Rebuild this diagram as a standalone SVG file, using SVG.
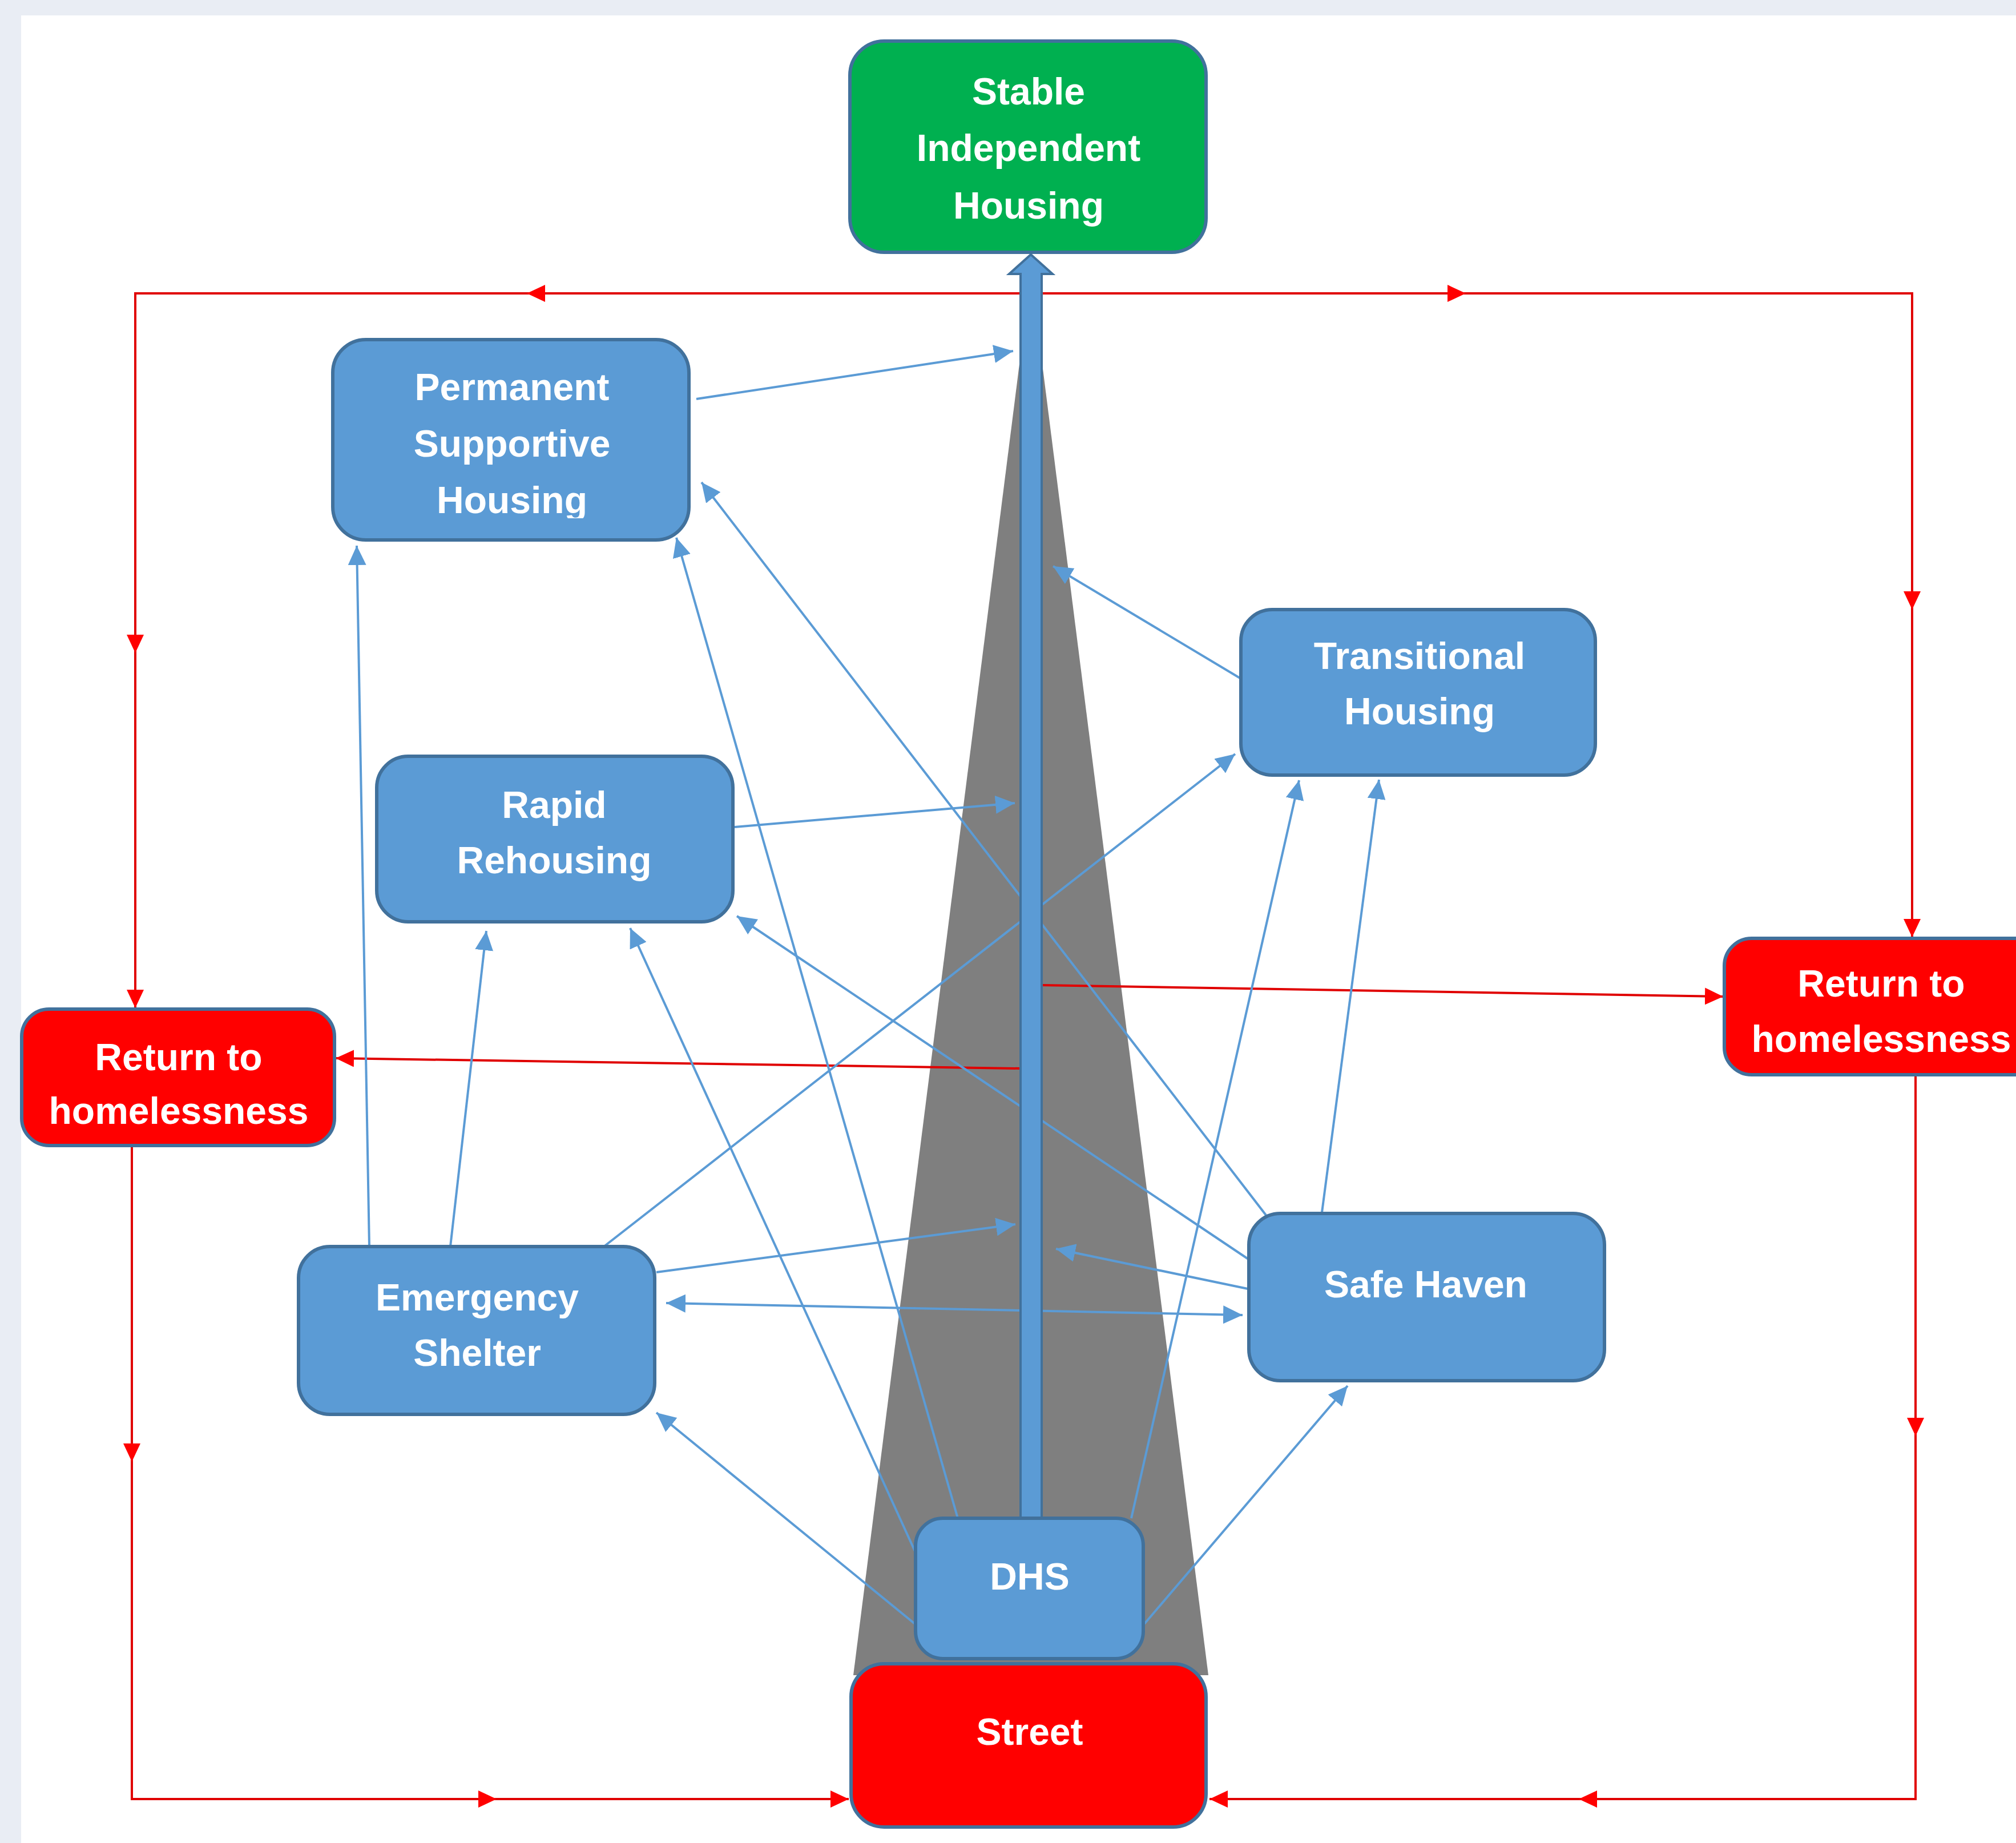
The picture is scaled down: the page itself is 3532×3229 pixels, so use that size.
<svg xmlns="http://www.w3.org/2000/svg" width="3532" height="3229" viewBox="0 0 3532 3229">
<defs>
<style>
.bg{fill:#e9edf4}
.panel{fill:#ffffff}
.box{stroke:#41719c;stroke-width:6}
.blue{fill:#5b9bd5}
.green{fill:#00b050}
.red{fill:#ff0000}
.lbl{font-family:"Liberation Sans",Arial,sans-serif;font-weight:bold;font-size:66px;fill:#ffffff;text-anchor:middle}
.thin{stroke:#5b9bd5;stroke-width:4;fill:none}
.rl{stroke:#e00000;stroke-width:4;fill:none}
</style>
<marker id="ab" markerUnits="userSpaceOnUse" markerWidth="36" markerHeight="32" refX="34" refY="16" orient="auto" viewBox="0 0 36 32">
<path d="M0,0 L34,16 L0,32 z" fill="#5b9bd5"/>
</marker>
<marker id="abs" markerUnits="userSpaceOnUse" markerWidth="36" markerHeight="32" refX="2" refY="16" orient="auto" viewBox="0 0 36 32">
<path d="M36,0 L2,16 L36,32 z" fill="#5b9bd5"/>
</marker>
<marker id="ar" markerUnits="userSpaceOnUse" markerWidth="34" markerHeight="30" refX="32" refY="15" orient="auto" viewBox="0 0 34 30">
<path d="M0,0 L32,15 L0,30 z" fill="#ff0000"/>
</marker>
<clipPath id="pshclip"><rect x="583" y="595" width="624" height="313"/></clipPath>
</defs>
<rect class="bg" x="0" y="0" width="3532" height="3229"/>
<rect class="panel" x="37" y="27" width="3495" height="3202"/>

<polygon id="funnel" points="1806,480 1495,2935 2117,2935" fill="#7f7f7f"/>

<g id="connectors">
<g id="red-loops">
<line class="rl" x1="1806" y1="514" x2="923" y2="514" marker-end="url(#ar)"/>
<polyline class="rl" points="923,514 237,514 237,1144" marker-end="url(#ar)"/>
<line class="rl" x1="237" y1="1144" x2="237" y2="1766" marker-end="url(#ar)"/>
<line class="rl" x1="1806" y1="514" x2="2568" y2="514" marker-end="url(#ar)"/>
<polyline class="rl" points="2568,514 3350,514 3350,1068" marker-end="url(#ar)"/>
<line class="rl" x1="3350" y1="1068" x2="3350" y2="1642" marker-end="url(#ar)"/>
<line class="rl" x1="231" y1="2007" x2="231" y2="2561" marker-end="url(#ar)"/>
<polyline class="rl" points="231,2561 231,3152 870,3152" marker-end="url(#ar)"/>
<line class="rl" x1="870" y1="3152" x2="1487" y2="3152" marker-end="url(#ar)"/>
<line class="rl" x1="3356" y1="1883" x2="3356" y2="2516" marker-end="url(#ar)"/>
<polyline class="rl" points="3356,2516 3356,3152 2766,3152" marker-end="url(#ar)"/>
<line class="rl" x1="2766" y1="3152" x2="2119" y2="3152" marker-end="url(#ar)"/>
<line class="rl" x1="1788" y1="1872" x2="588" y2="1854" marker-end="url(#ar)"/>
<line class="rl" x1="1825" y1="1726" x2="3019" y2="1746" marker-end="url(#ar)"/>
</g>
<g id="blue-links">
<line class="thin" x1="1220" y1="699" x2="1775" y2="615" marker-end="url(#ab)"/>
<line class="thin" x1="1287" y1="1449" x2="1778" y2="1407" marker-end="url(#ab)"/>
<line class="thin" x1="2174" y1="1189" x2="1845" y2="992" marker-end="url(#ab)"/>
<line class="thin" x1="1150" y1="2229" x2="1779" y2="2145" marker-end="url(#ab)"/>
<line class="thin" x1="2186" y1="2258" x2="1850" y2="2188" marker-end="url(#ab)"/>
<line class="thin" x1="1167" y1="2283" x2="2177" y2="2304" marker-start="url(#abs)" marker-end="url(#ab)"/>
<line class="thin" x1="1058" y1="2184" x2="2164" y2="1321" marker-end="url(#ab)"/>
<line class="thin" x1="789" y1="2184" x2="852" y2="1631" marker-end="url(#ab)"/>
<line class="thin" x1="647" y1="2184" x2="625" y2="956" marker-end="url(#ab)"/>
<line class="thin" x1="2187" y1="2206" x2="1291" y2="1605" marker-end="url(#ab)"/>
<line class="thin" x1="2218" y1="2129" x2="1229" y2="845" marker-end="url(#ab)"/>
<line class="thin" x1="2316" y1="2124" x2="2416" y2="1366" marker-end="url(#ab)"/>
<line class="thin" x1="1982" y1="2660" x2="2276" y2="1367" marker-end="url(#ab)"/>
<line class="thin" x1="2005" y1="2845" x2="2361" y2="2428" marker-end="url(#ab)"/>
<line class="thin" x1="1604" y1="2846" x2="1150" y2="2475" marker-end="url(#ab)"/>
<line class="thin" x1="1604" y1="2720" x2="1104" y2="1626" marker-end="url(#ab)"/>
<line class="thin" x1="1678" y1="2660" x2="1185" y2="942" marker-end="url(#ab)"/>
</g>
<path id="main-arrow" d="M1788,2662 L1788,480 L1768,480 L1806,446 L1844,480 L1825,480 L1825,2662 z" fill="#5b9bd5" stroke="#41719c" stroke-width="4"/>
</g>

<g id="stable">
<rect class="box green" x="1489" y="72" width="624" height="370" rx="60"/>
<text class="lbl" x="1802" y="183">Stable</text>
<text class="lbl" x="1802" y="282">Independent</text>
<text class="lbl" x="1802" y="383">Housing</text>
</g>
<g id="psh">
<rect class="box blue" x="583" y="595" width="624" height="351" rx="58"/>
<g clip-path="url(#pshclip)">
<text class="lbl" x="897" y="701">Permanent</text>
<text class="lbl" x="897" y="800">Supportive</text>
<text class="lbl" x="897" y="899">Housing</text>
</g>
</g>
<g id="rapid">
<rect class="box blue" x="660" y="1325" width="624" height="290" rx="55"/>
<text class="lbl" x="971" y="1433">Rapid</text>
<text class="lbl" x="971" y="1530">Rehousing</text>
</g>
<g id="transitional">
<rect class="box blue" x="2174" y="1068" width="621" height="290" rx="55"/>
<text class="lbl" x="2487" y="1172">Transitional</text>
<text class="lbl" x="2487" y="1269">Housing</text>
</g>
<g id="return-left">
<rect class="box red" x="38" y="1768" width="548" height="239" rx="48"/>
<text class="lbl" x="313" y="1875">Return to</text>
<text class="lbl" x="313" y="1969">homelessness</text>
</g>
<g id="return-right">
<rect class="box red" x="3021" y="1644" width="560" height="239" rx="48"/>
<text class="lbl" x="3296" y="1746">Return to</text>
<text class="lbl" x="3296" y="1843">homelessness</text>
</g>
<g id="emergency">
<rect class="box blue" x="523" y="2184" width="624" height="294" rx="55"/>
<text class="lbl" x="836" y="2296">Emergency</text>
<text class="lbl" x="836" y="2393">Shelter</text>
</g>
<g id="safehaven">
<rect class="box blue" x="2188" y="2126" width="623" height="293" rx="55"/>
<text class="lbl" x="2498" y="2273">Safe Haven</text>
</g>
<g id="dhs">
<rect class="box blue" x="1604" y="2660" width="399" height="246" rx="48"/>
<text class="lbl" x="1804" y="2785">DHS</text>
</g>
<g id="street">
<rect class="box red" x="1491" y="2915" width="622" height="286" rx="58"/>
<text class="lbl" x="1804" y="3057">Street</text>
</g>
</svg>
